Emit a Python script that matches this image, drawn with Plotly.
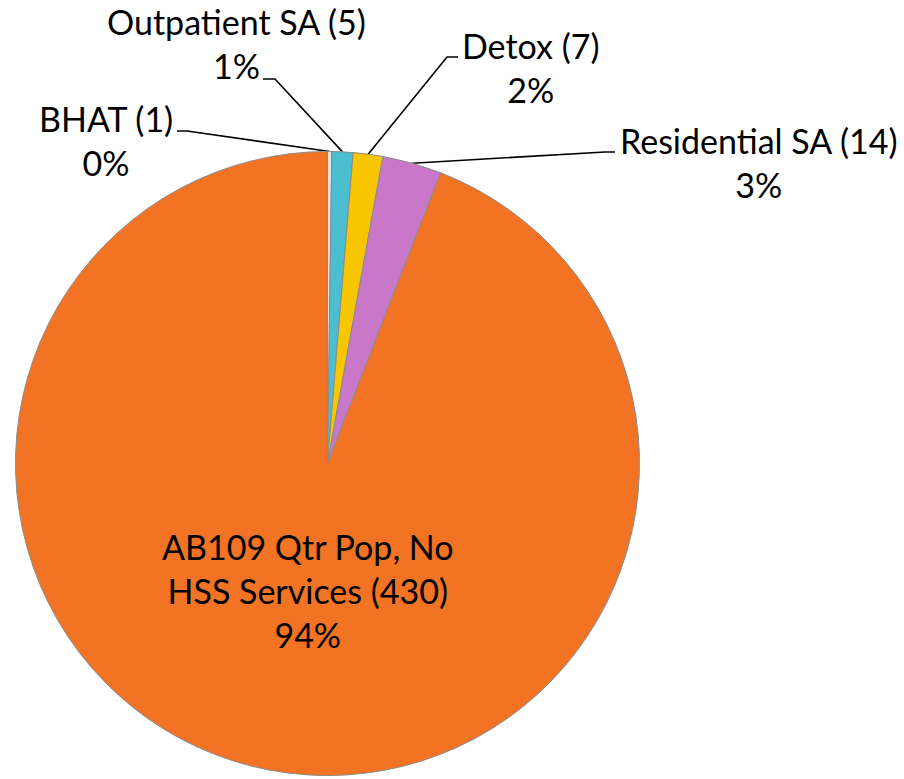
import math
import plotly.graph_objects as go

# Data
labels = ['BHAT', 'Outpatient SA', 'Detox', 'Residential SA',
          'AB109 Qtr Pop, No HSS Services']
counts = [1, 5, 7, 14, 430]
percent_labels = ['0%', '1%', '2%', '3%', '94%']
colors = ['#E6E6E6', '#4BBFCF', '#F7C600', '#C978C9', '#F17323']

W, H = 904, 779
cx, cy, r = 327.5, 463.5, 312

fig = go.Figure()

fig.add_trace(go.Pie(
    labels=labels,
    values=counts,
    sort=False,
    direction='clockwise',
    rotation=0,
    textinfo='none',
    hoverinfo='label+value+percent',
    marker=dict(colors=colors, line=dict(color='#8C8C8C', width=1)),
    domain=dict(x=[(cx - r) / W, (cx + r) / W],
                y=[(H - cy - r) / H, (H - cy + r) / H]),
    showlegend=False,
))

# label placement (pixels): elbow end, elbow start, text centre
label_layout = {
    'BHAT': dict(elbow=[(177, 131), (187, 131)], text=(106, 140)),
    'Outpatient SA': dict(elbow=[(263, 79), (275, 79)], text=(236, 43)),
    'Detox': dict(elbow=[(458, 57), (447, 57)], text=(531, 67)),
    'Residential SA': dict(elbow=[(615, 152), (605, 152)], text=(759, 162)),
}

total = sum(counts)
cum = 0
for name, n, pct in zip(labels, counts, percent_labels):
    mid = (cum + n / 2) / total * 2 * math.pi
    cum += n
    if name not in label_layout:
        continue
    ax = cx + r * math.sin(mid)
    ay = cy - r * math.cos(mid)
    lay = label_layout[name]
    xs = [lay['elbow'][0][0], lay['elbow'][1][0], ax]
    ys = [lay['elbow'][0][1], lay['elbow'][1][1], ay]
    fig.add_trace(go.Scatter(x=xs, y=ys, mode='lines',
                             line=dict(color='black', width=1.6),
                             hoverinfo='skip', showlegend=False))
    fig.add_annotation(x=lay['text'][0], y=lay['text'][1], xref='x', yref='y',
                       text=f'{name} ({n})<br>{pct}', showarrow=False,
                       xanchor='center', yanchor='middle', align='center')

fig.add_annotation(x=308, y=590, xref='x', yref='y',
                   text=f'AB109 Qtr Pop, No<br>HSS Services ({counts[4]})<br>{percent_labels[4]}',
                   showarrow=False, xanchor='center', yanchor='middle',
                   align='center')

fig.update_layout(
    width=W, height=H,
    margin=dict(l=0, r=0, t=0, b=0),
    paper_bgcolor='white', plot_bgcolor='rgba(0,0,0,0)',
    font=dict(family='Lato', size=34, color='black'),
    xaxis=dict(range=[0, W], visible=False, fixedrange=True),
    yaxis=dict(range=[H, 0], visible=False, fixedrange=True),
)

fig.write_html('out.html', config={'displayModeBar': False},
               post_script="document.body.style.margin='0';")
